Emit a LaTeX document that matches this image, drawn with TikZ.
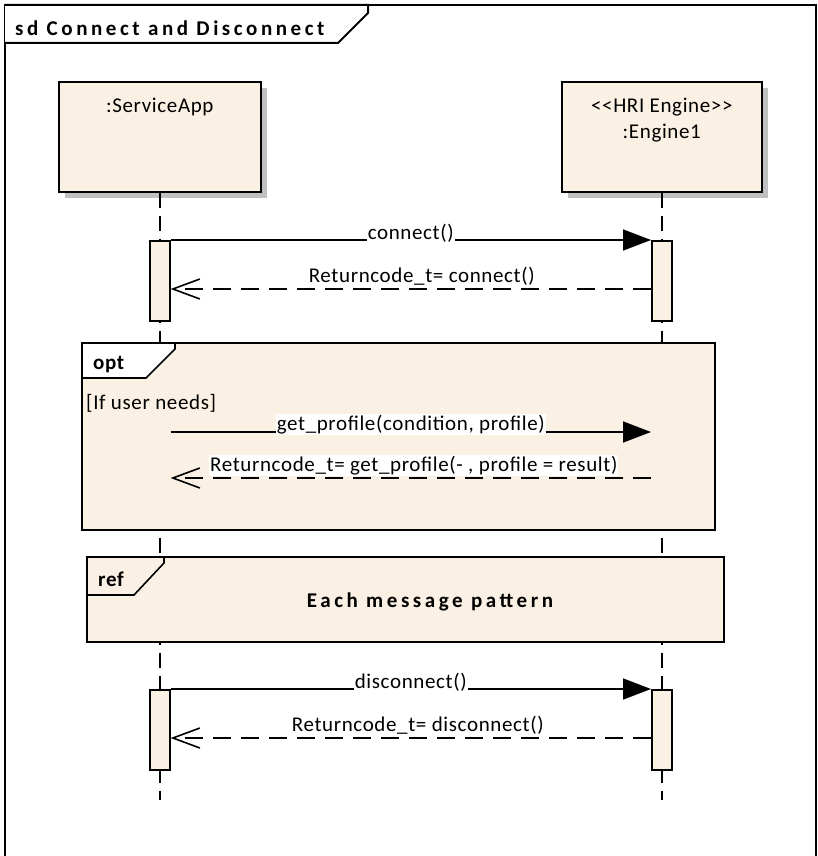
\documentclass[tikz,border=0pt]{standalone}
\usepackage{fontspec}
\setmainfont{Carlito}
\newfontfamily\msgfont[LetterSpace=3]{Carlito}
\newfontfamily\wideboldfont[LetterSpace=17]{Carlito}
\usetikzlibrary{arrows.meta,shadows,positioning}

\definecolor{umlfill}{RGB}{250,240,227}
\definecolor{umlshadow}{RGB}{192,192,192}

\tikzset{
  txt/.style={inner sep=0pt, font=\msgfont\fontsize{21}{25}\selectfont},
  boldtxt/.style={inner sep=0pt, font=\wideboldfont\bfseries\fontsize{21}{25}\selectfont},
  tabtxt/.style={inner sep=0pt, font=\msgfont\bfseries\fontsize{21}{25}\selectfont},
  head/.style={draw, line width=1.6pt, fill=umlfill, inner sep=0pt,
    minimum height=110pt, anchor=north west,
    drop shadow={shadow xshift=6pt, shadow yshift=-6pt, fill=umlshadow, opacity=1}},
  actbar/.style={draw, line width=1.6pt, fill=umlfill, inner sep=0pt,
    minimum width=20pt, minimum height=80pt, anchor=north},
  lifeline/.style={line width=1.6pt, dash pattern=on 15pt off 8pt},
  sync/.style={line width=1.6pt, -{Triangle[length=28pt,width=21pt]}},
  reply/.style={line width=1.6pt, dash pattern=on 18pt off 10pt,
    -{Straight Barb[length=27pt,width=20pt,line width=1.6pt]}},
  msg/.style={txt, fill=white, inner sep=1pt, anchor=south},
  fragment/.style={draw, line width=1.6pt, fill=umlfill},
  fragtab/.style={draw, line width=1.6pt},
  frame/.style={draw, line width=1.2pt}
}

\begin{document}
\begin{tikzpicture}[x=1pt,y=1pt]
\useasboundingbox (0,0) rectangle (817,-856);
% diagram frame and its name tab
\draw [frame] (5,-856) -- (5,-5) -- (816,-5) -- (816,-856);
\draw [fragtab, line width=2pt, fill=white] (5,-5) -- (368,-5) -- (368,-13) -- (338,-43) -- (5,-43);
\node [boldtxt, anchor=base west] (title) at (15,-36) {sd Connect and Disconnect};

% lifeline heads
\node [head, minimum width=202pt] (app) at (58,-81) {};
\node [txt, anchor=base] (appName) at (app.north |- 0,-113) {:ServiceApp};
\node [head, minimum width=200pt] (eng) at (561,-81) {};
\node [txt, anchor=base] (engStereo) at (eng.north |- 0,-113) {<{}<HRI Engine>{}>};
\node [txt, anchor=base] (engName) at (eng.north |- 0,-139) {:Engine1};

% lifelines
\coordinate (appEnd) at (app.south |- 0,-800);
\coordinate (engEnd) at (eng.south |- 0,-800);
\draw [lifeline] (app.south) -- (appEnd);
\draw [lifeline] (eng.south) -- (engEnd);

% connect
\node [actbar] (appBar1) at (app.south |- 0,-240) {};
\node [actbar] (engBar1) at (eng.south |- 0,-240) {};
\coordinate (ret1) at (0,-289);
\draw [sync] (appBar1.north east) -- (engBar1.north west)
  node [midway, msg, yshift=-4pt] {connect()};
\draw [reply] (engBar1.west |- ret1) -- (appBar1.east |- ret1)
  node [midway, msg, yshift=1.5pt, xshift=11pt] {Returncode\_t= connect()};

% opt fragment
\draw [fragment] (82,-343) rectangle (715,-530);
\draw [fragtab, fill=white] (82,-343) -- (175,-343) -- (175,-349) -- (146,-378) -- (82,-378) -- cycle;
\node [tabtxt, anchor=base west] (optName) at (93,-369) {opt};
\node [txt, anchor=west] (guard) at (86,-403) {[If user needs]};
\coordinate (call2) at (0,-432);
\coordinate (ret2) at (0,-478);
\draw [sync] (appBar1.east |- call2) -- (engBar1.west |- call2)
  node [midway, msg, yshift=-4pt] {get\_profile(condition, profile)};
\draw [reply] (engBar1.west |- ret2) -- (appBar1.east |- ret2)
  node [midway, msg, yshift=1.5pt, xshift=3pt] {Returncode\_t= get\_profile(- , profile = result)};

% ref fragment
\draw [fragment] (87,-557) rectangle (724,-642);
\draw [fragtab] (164,-557) -- (164,-563) -- (134,-595) -- (87,-595);
\node [tabtxt, anchor=base west] (refName) at (98,-586) {ref};
\node [boldtxt] (refText) at (430,-602) {Each message pattern};

% disconnect
\node [actbar] (appBar2) at (app.south |- 0,-689) {};
\node [actbar] (engBar2) at (eng.south |- 0,-689) {};
\coordinate (ret3) at (0,-738);
\draw [sync] (appBar2.north east) -- (engBar2.north west)
  node [midway, msg, yshift=-4pt] {disconnect()};
\draw [reply] (engBar2.west |- ret3) -- (appBar2.east |- ret3)
  node [midway, msg, yshift=1.5pt, xshift=7pt] {Returncode\_t= disconnect()};
\end{tikzpicture}
\end{document}
